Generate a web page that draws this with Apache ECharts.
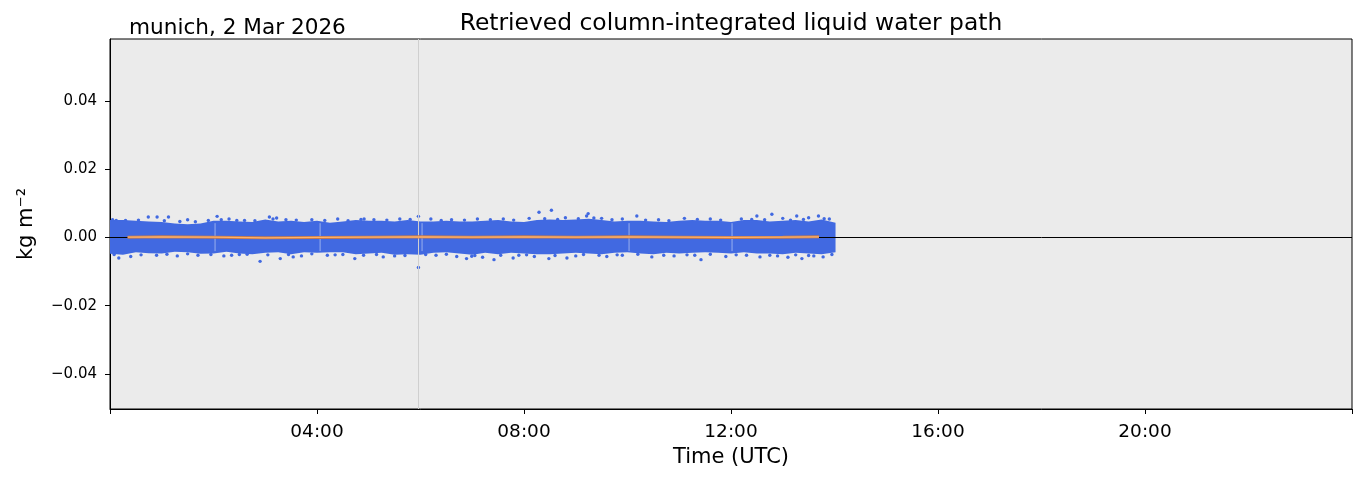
<!DOCTYPE html>
<html>
<head>
<meta charset="utf-8">
<title>Liquid water path</title>
<script src="https://cdn.jsdelivr.net/npm/echarts@6/dist/echarts.min.js"></script>
<style>
  html, body { margin: 0; padding: 0; background: #fff; }
  #lwpChart { width: 1363px; height: 478px; }
</style>
</head>
<body>
<div id="lwpChart"></div>
<script>
// time in hours UTC, values in kg m-2
var bandTime = [0, 0.25, 0.5, 0.75, 1, 1.25, 1.5, 1.75, 2, 2.25, 2.5, 2.75, 3, 3.25,
  3.5, 3.75, 4, 4.25, 4.5, 4.75, 5, 5.25, 5.5, 5.75, 6, 6.25, 6.5, 6.75,
  7, 7.25, 7.5, 7.75, 8, 8.25, 8.5, 8.75, 9, 9.25, 9.5, 9.75, 10, 10.25,
  10.5, 10.75, 11, 11.25, 11.5, 11.75, 12, 12.25, 12.5, 12.75, 13, 13.25, 13.5, 13.75, 14.02];
// upper / lower edge of the dense cloud of points
var bandUpper = [0.0051, 0.0051, 0.0049, 0.0047, 0.0045, 0.0041, 0.0039, 0.0041, 0.0049, 0.0049, 0.0047, 0.0045, 0.0053, 0.0047,
  0.0049, 0.0045, 0.0049, 0.0043, 0.0047, 0.0051, 0.0049, 0.0049, 0.0047, 0.0051, 0.0047, 0.0047, 0.0049, 0.0047,
  0.0047, 0.0049, 0.0051, 0.0047, 0.0045, 0.0051, 0.0053, 0.0051, 0.0053, 0.0055, 0.0051, 0.0047, 0.0049, 0.0049,
  0.0047, 0.0045, 0.0049, 0.0051, 0.0049, 0.0049, 0.0045, 0.0051, 0.0051, 0.0047, 0.0049, 0.0051, 0.0047, 0.0053, 0.0043];
var bandLower = [-0.0048, -0.0051, -0.0043, -0.0046, -0.0047, -0.0042, -0.0043, -0.0048, -0.0047, -0.0042, -0.0047, -0.0049, -0.0045, -0.0043,
  -0.0049, -0.0043, -0.0045, -0.0043, -0.0043, -0.0049, -0.0047, -0.0045, -0.0051, -0.0049, -0.0051, -0.0045, -0.0043, -0.0047,
  -0.0051, -0.0045, -0.0049, -0.0045, -0.0047, -0.0049, -0.0049, -0.0047, -0.0045, -0.0047, -0.0049, -0.0045, -0.0043, -0.0047,
  -0.0049, -0.0045, -0.0047, -0.0045, -0.0043, -0.0045, -0.0047, -0.0043, -0.0047, -0.0047, -0.0049, -0.0045, -0.0047, -0.0049, -0.0043];
// short data gaps (hours)
var gapTimes = [2.03, 4.06, 6.03, 10.03, 12.02];
// single points sticking out of the cloud
var outlierPoints = [
  [0.74, 0.0060], [0.91, 0.0060], [1.13, 0.0060], [2.07, 0.0062], [3.08, 0.0060], [3.22, 0.0057],
  [4.91, 0.0054], [5.96, 0.0062], [8.29, 0.0074], [8.53, 0.0080], [9.24, 0.0070], [9.21, 0.0063],
  [10.18, 0.0063], [12.50, 0.0063], [12.79, 0.0068], [13.27, 0.0063], [13.69, 0.0063],
  [0.05, 0.0052], [0.3, 0.0050], [1.5, 0.0052], [1.9, 0.0050], [2.3, 0.0054], [2.6, 0.0050],
  [3.4, 0.0052], [3.9, 0.0052], [4.4, 0.0054], [5.1, 0.0052], [5.6, 0.0054], [6.2, 0.0054],
  [6.6, 0.0052], [7.1, 0.0054], [7.6, 0.0054], [8.1, 0.0056], [8.8, 0.0058], [9.5, 0.0056],
  [9.9, 0.0054], [10.6, 0.0052], [11.1, 0.0056], [11.6, 0.0054], [12.2, 0.0054], [13.0, 0.0056],
  [13.5, 0.0058], [13.9, 0.0054],
  [0.12, 0.0050], [0.55, 0.0051], [1.05, 0.0049], [1.35, 0.0047], [1.65, 0.0046], [2.15, 0.0052],
  [2.45, 0.0050], [2.8, 0.0049], [3.15, 0.0054], [3.6, 0.0051], [4.15, 0.0050], [4.6, 0.0049],
  [4.85, 0.0053], [5.35, 0.0051], [5.8, 0.0053], [6.4, 0.0050], [6.85, 0.0051], [7.35, 0.0052],
  [7.8, 0.0051], [8.4, 0.0055], [8.65, 0.0053], [9.05, 0.0055], [9.35, 0.0057], [9.7, 0.0052],
  [10.35, 0.0051], [10.8, 0.0049], [11.35, 0.0053], [11.8, 0.0051], [12.4, 0.0053], [12.65, 0.0052],
  [13.15, 0.0051], [13.4, 0.0053], [13.8, 0.0055],
  [0.17, -0.0060], [2.90, -0.0070], [3.29, -0.0062], [3.54, -0.0057], [4.73, -0.0062], [5.28, -0.0057],
  [5.96, -0.0088], [6.89, -0.0062], [6.99, -0.0055], [7.42, -0.0065], [7.79, -0.0060], [8.48, -0.0062],
  [8.83, -0.0060], [10.47, -0.0057], [11.42, -0.0065], [12.56, -0.0057], [13.37, -0.0062], [13.78, -0.0057],
  [0.4, -0.0056], [0.9, -0.0052], [1.3, -0.0054], [1.7, -0.0052], [2.2, -0.0054], [2.5, -0.0050],
  [3.7, -0.0054], [4.2, -0.0052], [4.5, -0.0050], [5.5, -0.0054], [6.3, -0.0052], [6.7, -0.0056],
  [7.2, -0.0058], [7.9, -0.0052], [8.2, -0.0056], [9.0, -0.0054], [9.6, -0.0056], [9.9, -0.0052],
  [10.9, -0.0054], [11.3, -0.0052], [11.9, -0.0056], [12.3, -0.0052], [12.9, -0.0054], [13.1, -0.0058],
  [13.6, -0.0054],
  [0.08, -0.0050], [0.6, -0.0051], [1.1, -0.0049], [1.5, -0.0048], [1.95, -0.0050], [2.35, -0.0052],
  [2.65, -0.0049], [3.05, -0.0051], [3.45, -0.0050], [3.9, -0.0048], [4.35, -0.0051], [4.9, -0.0052],
  [5.15, -0.0050], [5.7, -0.0053], [6.1, -0.0050], [6.5, -0.0049], [7.05, -0.0053], [7.55, -0.0052],
  [8.05, -0.0051], [8.6, -0.0053], [9.15, -0.0050], [9.45, -0.0052], [9.8, -0.0051], [10.2, -0.0049],
  [10.7, -0.0052], [11.15, -0.0051], [11.6, -0.0049], [12.1, -0.0051], [12.75, -0.0052], [13.25, -0.0051],
  [13.5, -0.0053], [13.95, -0.0050]
];
// running mean (orange)
var meanTime = [0.34, 1, 2, 3, 4, 5, 6, 7, 8, 9, 10, 11, 12, 13, 13.7];
var meanValue = [0.0001, 0.0002, 0.0001, -0.0001, 0.0000, 0.0001, 0.0002, 0.0001, 0.0002, 0.0001, 0.0002, 0.0001, 0.0000, 0.0001, 0.0002];
// grey vertical marker
var markerTime = 5.96;
var yTicks = [-0.04, -0.02, 0, 0.02, 0.04];

function hourLabel(v) {
  if (v <= 0 || v >= 24) return '';
  return (v < 10 ? '0' : '') + v + ':00';
}
function yLabel(v) {
  for (var i = 0; i < yTicks.length; i++) {
    if (Math.abs(v - yTicks[i]) < 1e-9) return v.toFixed(2).replace('-', '\u2212');
  }
  return '';
}

var myChart = echarts.init(document.getElementById('lwpChart'));
var font = 'DejaVu Sans';
myChart.setOption({
  animation: false,
  textStyle: { fontFamily: font },
  title: [{
    text: 'Retrieved column-integrated liquid water path',
    left: 731, top: 12, textAlign: 'center', padding: 0,
    textStyle: { fontFamily: font, fontSize: 23.4, fontWeight: 'normal', color: '#000' }
  }, {
    text: 'munich, 2 Mar 2026',
    left: 129, top: 17, padding: 0,
    textStyle: { fontFamily: font, fontSize: 21.6, fontWeight: 'normal', color: '#000' }
  }],
  grid: {
    left: 110, right: 11, top: 39, bottom: 69,
    show: true, backgroundColor: '#ebebeb', borderColor: '#000', borderWidth: 1
  },
  xAxis: {
    type: 'value', min: 0, max: 24, interval: 4,
    name: 'Time (UTC)', nameLocation: 'middle', nameGap: 38,
    nameTextStyle: { fontFamily: font, fontSize: 21, color: '#000' },
    axisLine: { onZero: false, lineStyle: { color: '#000', width: 1 } },
    axisTick: { inside: false, length: 5, lineStyle: { color: '#000' } },
    axisLabel: { formatter: hourLabel, fontSize: 18.5, color: '#000', margin: 14 },
    splitLine: { show: false }
  },
  yAxis: {
    type: 'value', min: -0.0503, max: 0.0582, splitNumber: 5,
    name: 'kg m\u207B\u00B2', nameLocation: 'middle', nameRotate: 90, nameGap: 73,
    nameTextStyle: { fontFamily: font, fontSize: 21, color: '#000' },
    axisLine: { onZero: false, lineStyle: { color: '#000', width: 1 } },
    axisTick: { inside: false, length: 5, lineStyle: { color: '#000' } },
    axisLabel: { formatter: yLabel, fontSize: 15, color: '#000', margin: 13, showMinLabel: false, showMaxLabel: false },
    splitLine: { show: false }
  },
  series: [{
    // vertical marker
    type: 'line', data: [], z: 1, silent: true,
    markLine: {
      symbol: 'none', silent: true, label: { show: false },
      lineStyle: { color: '#cfcfcf', width: 1, type: 'solid' },
      data: [{ xAxis: markerTime }]
    }
  }, {
    type: 'custom', z: 2, silent: true,
    data: [[0, 0]],
    renderItem: function (params, api) {
      var pts = [], i;
      for (i = 0; i < bandTime.length; i++) pts.push(api.coord([bandTime[i], bandUpper[i]]));
      for (i = bandTime.length - 1; i >= 0; i--) pts.push(api.coord([bandTime[i], bandLower[i]]));
      var children = [{ type: 'polygon', shape: { points: pts }, style: { fill: '#4169e1' } }];
      gapTimes.forEach(function (t) {
        var a = api.coord([t, 0.0042]), b = api.coord([t, -0.0040]);
        children.push({ type: 'line', shape: { x1: a[0], y1: a[1], x2: b[0], y2: b[1] },
          style: { stroke: 'rgba(190,205,245,0.7)', lineWidth: 1 } });
      });
      return { type: 'group', children: children };
    }
  }, {
    type: 'scatter', z: 3, silent: true,
    symbolSize: 3.4,
    itemStyle: { color: '#4169e1', opacity: 1 },
    data: outlierPoints
  }, {
    // zero line
    type: 'line', data: [], z: 4, silent: true,
    markLine: {
      symbol: 'none', silent: true, label: { show: false },
      lineStyle: { color: '#000', width: 1, type: 'solid' },
      data: [{ yAxis: 0 }]
    }
  }, {
    type: 'line', z: 5, silent: true, showSymbol: false,
    lineStyle: { color: '#c47a4e', width: 3 },
    data: meanTime.map(function (t, i) { return [t, meanValue[i]]; })
  }, {
    type: 'line', z: 6, silent: true, showSymbol: false,
    lineStyle: { color: '#ffb36b', width: 1.2 },
    data: meanTime.map(function (t, i) { return [t, meanValue[i]]; })
  }]
});
</script>
</body>
</html>
